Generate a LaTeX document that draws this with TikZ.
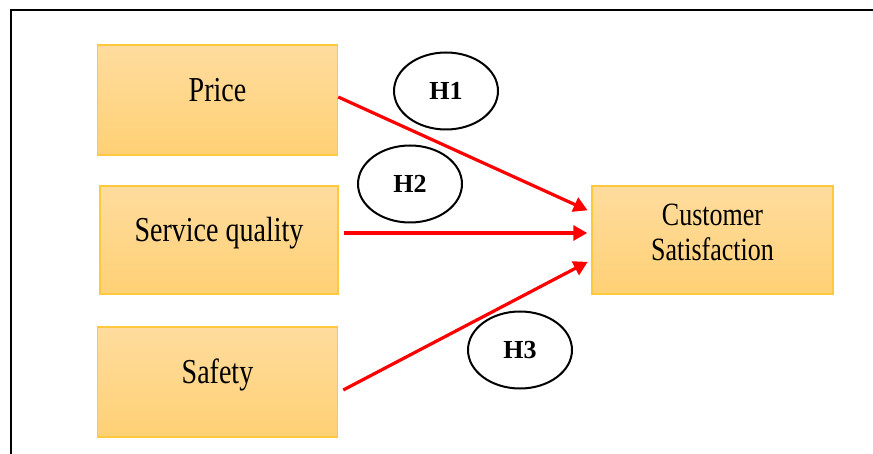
\documentclass[tikz,border=0pt]{standalone}
\usepackage{fontspec}
\setmainfont{Liberation Serif}
\usetikzlibrary{arrows.meta,shapes.geometric}

\definecolor{boxtop}{HTML}{FFDC9E}
\definecolor{boxbot}{HTML}{FFD175}
\definecolor{boxline}{HTML}{FFC83D}

\newcommand{\tall}[1]{\scalebox{1}[1.25]{#1}}

\tikzset{
  varbox/.style={draw=boxline, line width=1.5pt, top color=boxtop, bottom color=boxbot,
    minimum width=240pt, minimum height=108pt, font=\fontsize{28}{35}\selectfont, align=center,
    text height=20pt, text depth=16pt},
  hypo/.style={draw, ellipse, line width=2pt, minimum width=104pt, minimum height=77pt,
    font=\fontsize{26}{30}\selectfont\bfseries},
  link/.style={red, line width=3.2pt, -{Triangle[length=14pt,width=15pt]}, shorten >=4pt}
}

\begin{document}
\begin{tikzpicture}[x=1pt,y=-1pt]
\useasboundingbox (0,0) rectangle (873,454);
\draw[line width=2pt] (11,454) -- (11,10) -- (873,10);

\node[varbox, minimum height=110pt] (price) at (217.5,100) {\tall{Price}};
\node[varbox, minimum width=238pt] (service) at (219,240) {\tall{Service quality}};
\node[varbox, minimum height=110pt] (safety) at (217.5,382) {\tall{Safety}};
\node[varbox, minimum width=241pt, text height=, text depth=, font=\fontsize{26}{35}\selectfont]
  (cs) at (712.5,240) {\tall{Customer}\\\tall{Satisfaction}\rule[-16pt]{0pt}{16pt}};

\node[hypo] (h1) at (446,91) {H1};
\node[hypo] (h2) at (410,184) {H2};
\node[hypo] (h3) at (520,350) {H3};

\draw[link] ([yshift=3pt]price.east) -- ([yshift=28pt]cs.west);
\draw[link] ([yshift=7pt,xshift=5pt]service.east) -- ([yshift=7pt]cs.west);
\draw[link] ([yshift=-8pt,xshift=5pt]safety.east) -- ([yshift=-20pt]cs.west);
\end{tikzpicture}
\end{document}
